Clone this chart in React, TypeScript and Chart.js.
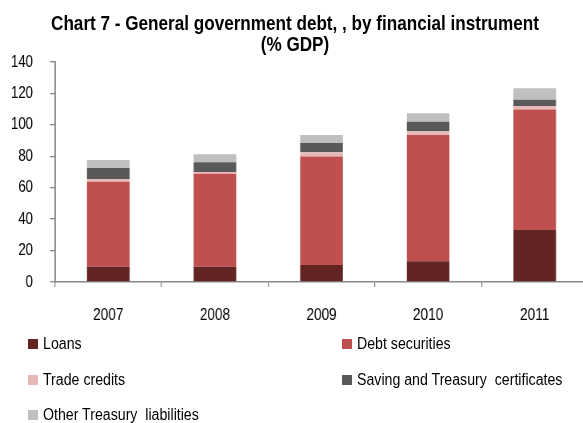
import React, { useEffect, useRef } from "react";
import { Chart, registerables } from "chart.js";

Chart.register(...registerables);

const categories = ["2007", "2008", "2009", "2010", "2011"];
const loans = [9.7, 9.7, 10.8, 13.2, 33.1];
const debtSecurities = [54.1, 59.2, 69.0, 80.4, 76.6];
const tradeCredits = [1.6, 1.1, 2.8, 2.3, 2.3];
const savingCertificates = [7.2, 6.2, 5.9, 6.1, 4.0];
const otherLiabilities = [5.1, 5.1, 5.1, 5.4, 7.3];

const seriesNames = [
  "Loans",
  "Debt securities",
  "Trade credits",
  "Saving and Treasury  certificates",
  "Other Treasury  liabilities",
];
const seriesColors = ["#632523", "#C0504D", "#E6B9B8", "#595959", "#BFBFBF"];

const titleLines = ["Chart 7 - General government debt, , by financial instrument", "(% GDP)"];

const FONT = "'Liberation Sans', Arial, sans-serif";

// Display size and horizontal condensing factor (emulates a narrow typeface)
const DISPLAY_W = 590;
const DISPLAY_H = 423;
const SQUISH = 0.8;
const BUFFER_W = Math.round(DISPLAY_W / SQUISH);
const sx = (v: number) => v * (BUFFER_W / DISPLAY_W);

export default function App() {
  const ref = useRef<HTMLCanvasElement>(null);

  useEffect(() => {
    if (!ref.current) return;
    const values = [loans, debtSecurities, tradeCredits, savingCertificates, otherLiabilities];
    const chart = new Chart(ref.current, {
      type: "bar",
      data: {
        labels: categories,
        datasets: values.map((v, i) => ({
          label: seriesNames[i],
          data: v,
          backgroundColor: seriesColors[i],
          borderWidth: 0,
          barPercentage: 0.4,
          categoryPercentage: 1,
        })),
      },
      options: {
        animation: false,
        responsive: false,
        layout: { padding: { top: 62, right: sx(2), bottom: 101, left: 0 } },
        plugins: { legend: { display: false }, title: { display: false }, tooltip: { enabled: false } },
        scales: {
          x: {
            stacked: true,
            grid: {
              display: true,
              drawOnChartArea: false,
              drawTicks: true,
              tickLength: 5,
              color: "#888",
              lineWidth: 1.3,
              offset: true,
            },
            border: { color: "#888", width: 1.5 },
            ticks: { color: "#000", font: { family: FONT, size: 17 }, padding: 18 },
            afterFit: (s: any) => {
              s.height = 40;
            },
          },
          y: {
            stacked: true,
            min: 0,
            max: 140,
            grid: { display: true, drawOnChartArea: false, drawTicks: true, tickLength: sx(5), color: "#888", lineWidth: 1.3 },
            border: { color: "#888", width: 1.9 },
            ticks: { stepSize: 20, color: "#000", font: { family: FONT, size: 16.5 }, padding: sx(17) },
            afterFit: (s: any) => {
              s.width = sx(55);
            },
          },
        },
      },
    });
    return () => chart.destroy();
  }, []);

  const rowCenters = [344, 380, 415];
  const legendPos = seriesNames.map((_, i) => ({
    left: i % 2 === 0 ? 28 : 342,
    top: rowCenters[Math.floor(i / 2)],
  }));

  return (
    <div
      style={{
        position: "fixed",
        left: 0,
        top: 0,
        width: DISPLAY_W,
        height: DISPLAY_H,
        overflow: "hidden",
        background: "#fff",
      }}
    >
      <canvas
        ref={ref}
        width={BUFFER_W}
        height={DISPLAY_H}
        style={{ width: DISPLAY_W + "px", height: DISPLAY_H + "px", display: "block" }}
      />
      <div
        style={{
          position: "absolute",
          top: 12,
          left: 295 - 400,
          width: 800,
          textAlign: "center",
          fontFamily: FONT,
          fontWeight: "bold",
          fontSize: 21,
          lineHeight: "21px",
          color: "#000",
          whiteSpace: "nowrap",
        }}
      >
        {titleLines.map((t, i) => (
          <div key={i} style={{ transform: "scaleX(0.815)", transformOrigin: "50% 50%" }}>
            {t}
          </div>
        ))}
      </div>
      {seriesNames.map((name, i) => (
        <div
          key={name}
          style={{
            position: "absolute",
            left: legendPos[i].left,
            top: legendPos[i].top - 10,
            height: 20,
            display: "flex",
            alignItems: "center",
            fontFamily: FONT,
            fontSize: 16,
            color: "#000",
            whiteSpace: "pre",
          }}
        >
          <span
            style={{
              display: "inline-block",
              width: 9.5,
              height: 9.5,
              background: seriesColors[i],
              marginRight: 5.5,
              flex: "none",
            }}
          />
          <span style={{ display: "inline-block", transform: "scaleX(0.885)", transformOrigin: "0 50%" }}>
            {name}
          </span>
        </div>
      ))}
    </div>
  );
}
